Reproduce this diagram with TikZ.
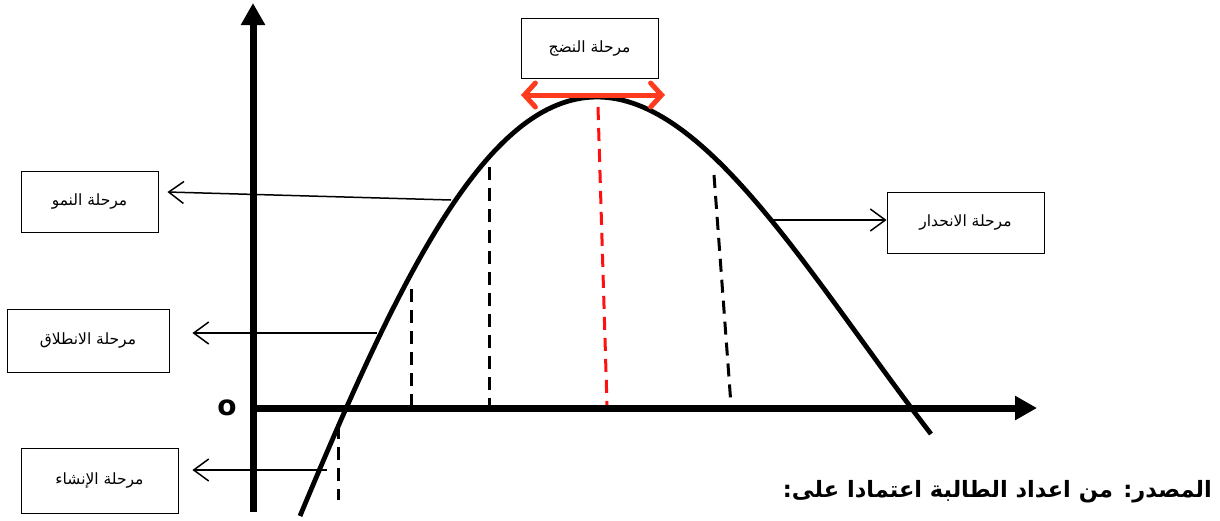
\documentclass[tikz,border=0pt]{standalone}
\usepackage{fontspec}
\usetikzlibrary{arrows.meta,calc}
\TeXXeTstate=1
\newfontfamily\arabicfont[Script=Arabic]{DejaVu Sans}
\newfontfamily\ringfont{DejaVu Sans}
\definecolor{arrowred}{HTML}{FF3B1F}
\definecolor{dashred}{HTML}{FF1010}
\begin{document}
\begin{tikzpicture}[x=1pt,y=-1pt,
  labelbox/.style={draw=black,line width=0.9pt,fill=white,inner sep=0pt,
    font=\arabicfont\fontsize{15.5}{18}\selectfont},
  conn/.style={line width=1.5pt,-{Straight Barb[length=15pt,width=22pt,line width=1.5pt]}},
  axisline/.style={line width=7pt,-{Triangle[length=22pt,width=23pt]}},
  stage/.style={dash pattern=on 13pt off 8pt,line width=3pt},
  curveline/.style={line width=4.8pt}]
\useasboundingbox (0,0) rectangle (1220,520);
% axes
\coordinate (yb) at (253,512);
\coordinate (yt) at (253,3);
\coordinate (xl) at (250,408);
\coordinate (xr) at (1037,408);
\draw[axisline] (yb) -- (yt);
\draw[axisline] (xl) -- (xr);
\node[font=\ringfont\bfseries\fontsize{28}{30}\selectfont,inner sep=0pt] (origin) at (227,408) {o};
% curve
\coordinate (cs) at (300,516);
\coordinate (peak) at (597,97);
\coordinate (ce) at (931,434);
\draw[curveline] (cs) .. controls (400,276) and (487,97) .. (peak)
  .. controls (707,97) and (811,278) .. (ce);
% dashed stage lines
\coordinate (d1t) at (338,426); \coordinate (d1b) at (338,500);
\coordinate (d2t) at (411,289); \coordinate (d2b) at (411,405);
\coordinate (d3t) at (489,167); \coordinate (d3b) at (489,405);
\coordinate (d4t) at (598,107); \coordinate (d4b) at (607,405);
\coordinate (d5t) at (714,175); \coordinate (d5b) at (731,405);
\draw[stage] (d1t) -- (d1b);
\draw[stage] (d2t) -- (d2b);
\draw[stage] (d3t) -- (d3b);
\draw[stage,dashred] (d4t) -- (d4b);
\draw[stage] (d5t) -- (d5b);
% boxes
\node[labelbox,minimum width=137pt,minimum height=61pt] (nomo) at (89.5,201.5) {\beginR مرحلة النمو\endR};
\node[labelbox,minimum width=162pt,minimum height=63pt] (intilaq) at (88,340.5) {\beginR مرحلة الانطلاق\endR};
\node[labelbox,minimum width=157pt,minimum height=65pt] (inshaa) at (99.5,480.5) {\beginR مرحلة الإنشاء\endR};
\node[labelbox,minimum width=137pt,minimum height=60pt] (nudj) at (589.5,48) {\beginR مرحلة النضج\endR};
\node[labelbox,minimum width=157pt,minimum height=61pt] (inhidar) at (965.5,222.5) {\beginR مرحلة الانحدار\endR};
% connectors
\coordinate (cNomo) at (451,200);
\coordinate (cIntilaq) at (377,333);
\coordinate (cInshaa) at (327,470);
\coordinate (cInhidar) at (769,220);
\draw[conn] (cNomo) -- ([xshift=9pt,yshift=9.5pt]nomo.east);
\draw[conn] (cIntilaq) -- ([xshift=23pt,yshift=7.5pt]intilaq.east);
\draw[conn] (cInshaa) -- ([xshift=14pt,yshift=10.5pt]inshaa.east);
\draw[conn] (cInhidar) -- ([yshift=2.5pt]inhidar.west);
% maturity double arrow
\coordinate (mL) at (521,95);
\coordinate (mR) at (665,95);
\draw[arrowred,line width=5pt,line cap=round,{Straight Barb[length=11pt,width=24pt,line width=5pt,line cap=round]}-{Straight Barb[length=11pt,width=24pt,line width=5pt,line cap=round]}] (mL) -- (mR);
% source
\node[anchor=base east,inner sep=0pt,font=\arabicfont\bfseries\fontsize{22.5}{26}\selectfont] (source) at (1212,497) {\beginR المصدر: من اعداد الطالبة اعتمادا على:\endR};
\end{tikzpicture}
\end{document}
